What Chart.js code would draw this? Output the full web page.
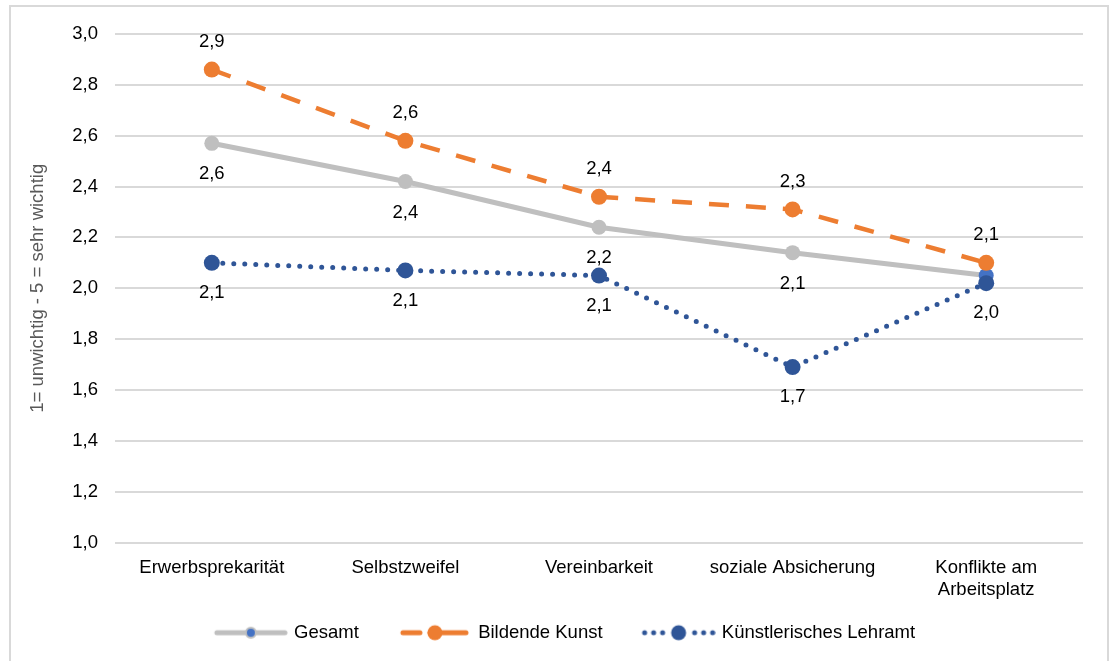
<!DOCTYPE html>
<html lang="de">
<head>
<meta charset="utf-8">
<script src="https://cdn.jsdelivr.net/npm/chart.js@4/dist/chart.umd.min.js"></script>
<style>
  html, body { margin: 0; padding: 0; background: #fff; overflow: hidden; }
  #rahmen { position: absolute; left: 9px; top: 5px; width: 1100px; height: 720px; border: 2px solid #d9d9d9; box-sizing: border-box; }
  #wrap { position: absolute; left: 0; top: 0; width: 1112px; height: 661px; }
</style>
</head>
<body>
<div id="rahmen"></div>
<div id="wrap"><canvas id="grafico"></canvas></div>
<script>
const kategorien = ['Erwerbsprekarität', 'Selbstzweifel', 'Vereinbarkeit', 'soziale Absicherung', ['Konflikte am', 'Arbeitsplatz']];
const gesamt = [2.57, 2.42, 2.24, 2.14, 2.05];
const bildendeKunst = [2.86, 2.58, 2.36, 2.31, 2.10];
const lehramt = [2.10, 2.07, 2.05, 1.69, 2.02];
const gesamtLabels = ['2,6', '2,4', '2,2', '2,1', ''];
const bildendeLabels = ['2,9', '2,6', '2,4', '2,3', '2,1'];
const lehramtLabels = ['2,1', '2,1', '2,1', '1,7', '2,0'];

const GRAU = '#BFBFBF';
const ORANGE = '#ED7D31';
const BLAU = '#2F5597';
const FONT = 'Liberation Sans, Arial, sans-serif';
const FS = 18.5;

// kleine Legendensymbole (Linie + Punkt); links Leerraum als Abstand,
// rechts ragt das Symbol 3px in den Textabstand hinein
const RAND = 17;
const SYM = 74;
function symbol(tipo) {
  const c = document.createElement('canvas');
  c.width = SYM + RAND + 6; c.height = 18;
  const g = c.getContext('2d');
  g.translate(RAND + 6, 0);
  const y = 9;
  if (tipo === 'gesamt') {
    g.strokeStyle = GRAU; g.lineWidth = 5; g.lineCap = 'round';
    g.beginPath(); g.moveTo(3, y); g.lineTo(71, y); g.stroke();
    g.beginPath(); g.arc(37, y, 5, 0, Math.PI * 2);
    g.fillStyle = '#4472C4'; g.fill();
    g.lineWidth = 2; g.strokeStyle = GRAU; g.stroke();
  } else if (tipo === 'bildende') {
    g.strokeStyle = ORANGE; g.lineWidth = 5; g.lineCap = 'round';
    g.beginPath(); g.moveTo(5, y); g.lineTo(22, y); g.stroke();
    g.beginPath(); g.moveTo(32, y); g.lineTo(68, y); g.stroke();
    g.beginPath(); g.arc(37, y, 7.5, 0, Math.PI * 2);
    g.fillStyle = ORANGE; g.fill();
  } else {
    g.fillStyle = BLAU;
    [3, 12, 21, 53, 62, 71].forEach(x => {
      g.beginPath(); g.arc(x, y, 2.5, 0, Math.PI * 2); g.fill();
    });
    g.beginPath(); g.arc(37, y, 7.5, 0, Math.PI * 2); g.fill();
  }
  return c;
}

const symbole = [symbol('gesamt'), symbol('bildende'), symbol('lehramt')];
const alleLabels = [gesamtLabels, bildendeLabels, lehramtLabels];

// Datenbeschriftungen
const beschriftung = {
  id: 'beschriftung',
  afterDatasetsDraw(chart) {
    const ctx = chart.ctx;
    ctx.save();
    ctx.font = FS + 'px ' + FONT;
    ctx.fillStyle = '#000';
    ctx.textAlign = 'center';
    ctx.textBaseline = 'middle';
    chart.data.datasets.forEach((ds, i) => {
      const meta = chart.getDatasetMeta(i);
      meta.data.forEach((p, j) => {
        const txt = alleLabels[i][j];
        if (!txt) return;
        ctx.fillText(txt, p.x, p.y + ds.labelDy);
      });
    });
    ctx.restore();
  }
};

Chart.defaults.font.family = FONT;
Chart.defaults.font.size = FS;
Chart.defaults.color = '#000';

new Chart(document.getElementById('grafico'), {
  type: 'line',
  data: {
    labels: kategorien,
    datasets: [
      {
        label: 'Gesamt', data: gesamt, order: 3, labelDy: 31,
        borderColor: GRAU, borderWidth: 5, borderCapStyle: 'round',
        pointRadius: 7.5, pointBackgroundColor: [GRAU, GRAU, GRAU, GRAU, '#4472C4'],
        pointBorderColor: GRAU, pointBorderWidth: 0
      },
      {
        label: 'Bildende Kunst', data: bildendeKunst, order: 2, labelDy: -28,
        borderColor: ORANGE, borderWidth: 4.5, borderDash: [20, 17],
        pointRadius: 8, pointBackgroundColor: ORANGE, pointBorderWidth: 0
      },
      {
        label: 'Künstlerisches Lehramt', data: lehramt, order: 1, labelDy: 30,
        borderColor: BLAU, borderWidth: 5, borderDash: [0, 11], borderCapStyle: 'round',
        pointRadius: 8, pointBackgroundColor: BLAU, pointBorderWidth: 0
      }
    ]
  },
  options: {
    responsive: true,
    maintainAspectRatio: false,
    animation: false,
    layout: { padding: { top: 34, right: 29, left: 26, bottom: 9 } },
    elements: { line: { tension: 0 } },
    plugins: {
      tooltip: { enabled: false },
      legend: {
        position: 'bottom',
        labels: {
          usePointStyle: true,
          pointStyleWidth: SYM + RAND,
          padding: 19,
          font: { size: FS },
          color: '#000',
          generateLabels(chart) {
            return chart.data.datasets.map((ds, i) => ({
              text: ds.label,
              pointStyle: symbole[i],
              datasetIndex: i,
              hidden: false,
              lineWidth: 0,
              fillStyle: 'transparent',
              strokeStyle: 'transparent',
              fontColor: '#000'
            }));
          }
        }
      }
    },
    scales: {
      x: {
        offset: true,
        grid: { display: false, drawTicks: false },
        border: { display: false },
        ticks: { padding: 14, color: '#000', maxRotation: 0, autoSkip: false },
        afterFit(s) { s.height = 62; }
      },
      y: {
        min: 1, max: 3,
        grid: { color: '#d9d9d9', lineWidth: 2, drawTicks: false },
        border: { display: false },
        ticks: {
          stepSize: 0.2, padding: 17, color: '#000',
          callback: v => v.toFixed(1).replace('.', ',')
        },
        title: {
          display: true, text: '1= unwichtig - 5 = sehr wichtig',
          color: '#595959', font: { size: FS }, padding: { top: 1, bottom: 0 }
        },
        afterFit(s) { s.width = 89; }
      }
    }
  },
  plugins: [beschriftung]
});
</script>
</body>
</html>
